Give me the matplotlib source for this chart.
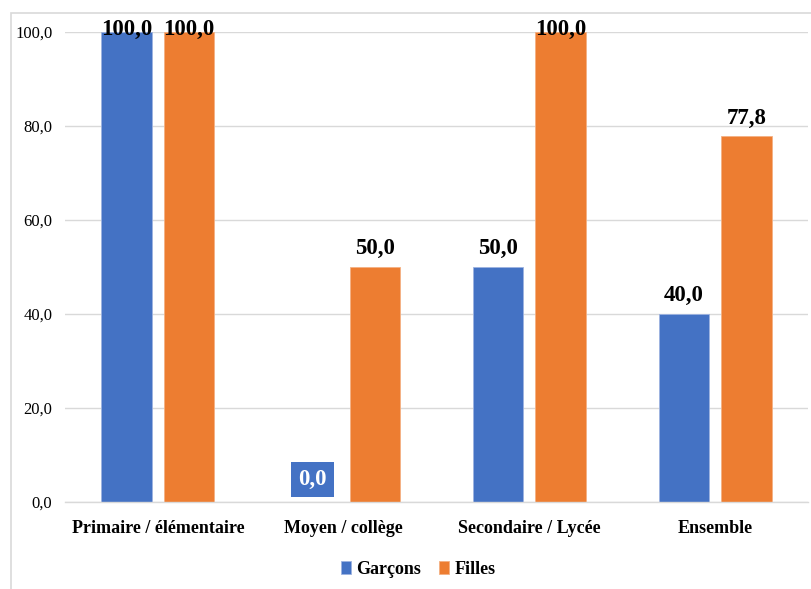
import matplotlib
matplotlib.use("Agg")
import matplotlib.pyplot as plt
import numpy as np
from matplotlib.patches import Rectangle

categories = ["Primaire / élémentaire", "Moyen / collège", "Secondaire / Lycée", "Ensemble"]
garcons = [100.0, 0.0, 50.0, 40.0]
filles = [100.0, 50.0, 100.0, 77.8]
series_names = ["Garçons", "Filles"]
yticks = [0, 20, 40, 60, 80, 100]

BLUE = "#4472C4"
ORANGE = "#ED7D31"
SERIF = ["Liberation Serif", "DejaVu Serif"]

def fmt(v):
    return f"{v:.1f}".replace(".", ",")

fig = plt.figure(figsize=(8.11, 5.89), dpi=100)
ax = fig.add_axes([65/811, 1-502/589, (808-65)/811, (502-32)/589])

# chart frame
fig.patches.append(Rectangle((11/811, -0.05), 1.2, 1-13/589+0.05, transform=fig.transFigure,
                             fill=False, edgecolor="#D9D9D9", linewidth=1.2, zorder=0))

x = np.arange(len(categories)) + 0.5
w = 0.272
off = 0.168
b1 = ax.bar(x - off, garcons, w, color=BLUE, edgecolor="#9DB3E0", linewidth=0.6, label=series_names[0], zorder=2)
b2 = ax.bar(x + off, filles, w, color=ORANGE, edgecolor="#F4B183", linewidth=0.6, label=series_names[1], zorder=2)

LS = 16.5
for bars, vals, col in [(b1, garcons, BLUE), (b2, filles, ORANGE)]:
    for rect, v in zip(bars, vals):
        cx = rect.get_x() + rect.get_width()/2
        if v >= 100:
            ax.annotate(fmt(v), (cx, v), xytext=(0, 1.5), textcoords="offset points",
                        ha="center", va="center", fontsize=LS, fontweight="bold",
                        family=SERIF, color="black", annotation_clip=False, zorder=4)
        elif v == 0:
            ax.annotate(fmt(v), (cx, v), xytext=(0, 16), textcoords="offset points",
                        ha="center", va="center", fontsize=LS, fontweight="bold",
                        family=SERIF, color="white", zorder=4,
                        bbox=dict(boxstyle="square,pad=0.3", facecolor=col, edgecolor="none"))
        else:
            ax.annotate(fmt(v), (cx, v), xytext=(0, 5.5), textcoords="offset points",
                        ha="center", va="bottom", fontsize=LS, fontweight="bold",
                        family=SERIF, color="black", zorder=4)

ax.set_xlim(0, len(categories))
ax.set_ylim(0, 100)
ax.set_yticks(yticks)
ax.set_yticklabels([fmt(v) for v in yticks], family=SERIF, fontsize=12)
ax.set_xticks(x)
ax.set_xticklabels(categories, family=SERIF, fontsize=13, fontweight="bold")
ax.tick_params(axis="both", length=0)
ax.tick_params(axis="x", pad=13)
ax.tick_params(axis="y", pad=9)
ax.grid(axis="y", color="#D9D9D9", linewidth=1.0, zorder=0)
ax.set_axisbelow(True)
for s in ["top", "right", "left"]:
    ax.spines[s].set_visible(False)
ax.spines["bottom"].set_color("#D9D9D9")
ax.spines["bottom"].set_linewidth(1.0)

fig.legend(handles=[b1, b2], labels=series_names, loc="center",
           bbox_to_anchor=(418/811, 1-569/589), ncol=2, frameon=False,
           prop=dict(family=SERIF, weight="bold", size=13),
           handlelength=0.55, handleheight=0.7, handletextpad=0.3, columnspacing=1.0)

fig.savefig("out.png", dpi=100)
